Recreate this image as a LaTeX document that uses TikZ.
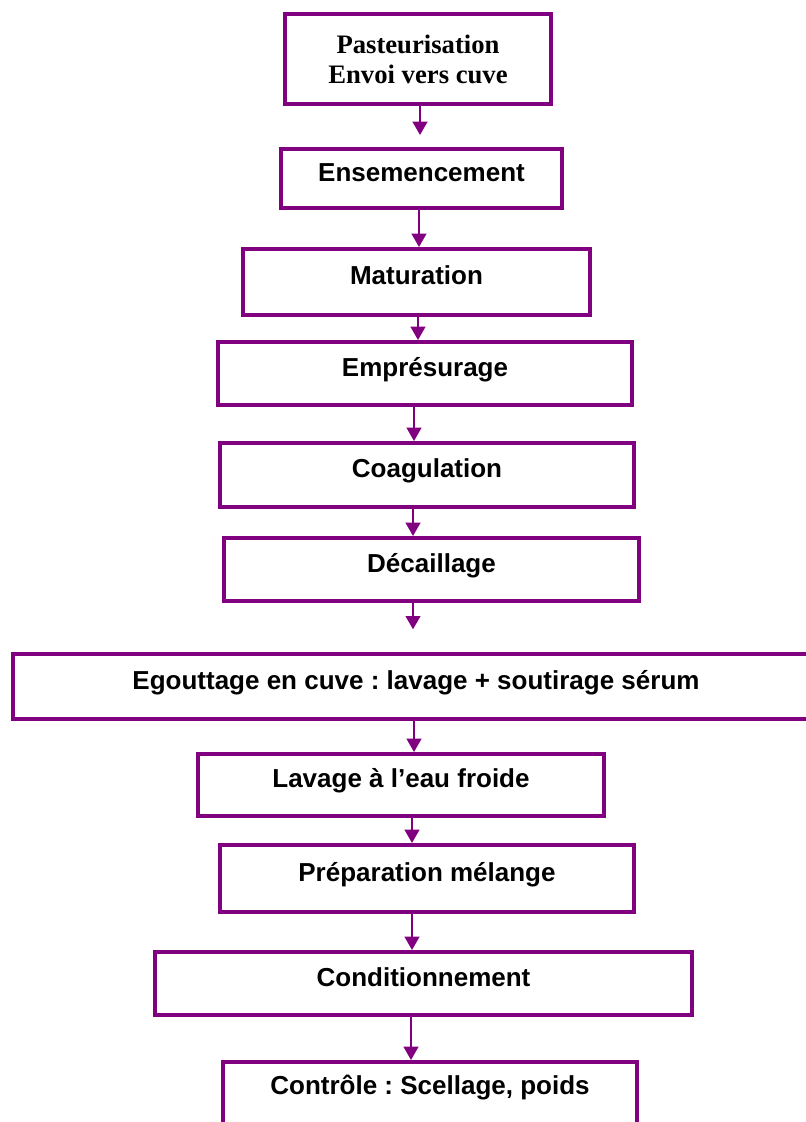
\documentclass[tikz,border=0pt]{standalone}
\usepackage{fontspec}
\setmainfont{Liberation Sans}
\newfontfamily\serifbf{Liberation Serif}
\usetikzlibrary{arrows.meta}
\definecolor{cBorder}{HTML}{800080}
\frenchspacing

\begin{document}
\begin{tikzpicture}[
    x=0.75pt, y=-0.75pt,
    box/.style={draw=cBorder, line width=3pt, fill=white, align=center, inner sep=0pt,
        font=\fontsize{19.5}{23}\selectfont\bfseries, text height=14pt, text depth=10pt},
    arr/.style={-{Triangle[length=10pt,width=11pt]}, line width=1.6pt, draw=cBorder}
]
\useasboundingbox (0,0) rectangle (806,1122);

% steps of the process
\node[box, minimum width=266*0.75pt, minimum height=90*0.75pt, font=\fontsize{20}{22.5}\serifbf\bfseries, text height=, text depth=] (past) at (418,59) {Pasteurisation\\Envoi vers cuve};
\node[box, minimum width=281*0.75pt, minimum height=59*0.75pt] (ens) at (421.5,178.5) {Ensemencement};
\node[box, minimum width=347*0.75pt, minimum height=66*0.75pt] (mat) at (416.5,282) {Maturation};
\node[box, minimum width=414*0.75pt, minimum height=63*0.75pt] (emp) at (425,373.5) {Emprésurage};
\node[box, minimum width=414*0.75pt, minimum height=64*0.75pt] (coag) at (427,475) {Coagulation};
\node[box, minimum width=415*0.75pt, minimum height=63*0.75pt] (dec) at (431.5,569.5) {Décaillage};
\node[box, minimum width=806*0.75pt, minimum height=65*0.75pt] (egout) at (416,686.5) {Egouttage en cuve : lavage + soutirage sérum};
\node[box, minimum width=406*0.75pt, minimum height=62*0.75pt] (lav) at (401,785) {Lavage à l’eau froide};
\node[box, minimum width=414*0.75pt, minimum height=67*0.75pt] (prep) at (427,878.5) {Préparation mélange};
\node[box, minimum width=537*0.75pt, minimum height=63*0.75pt] (cond) at (423.5,983.5) {Conditionnement};
\node[box, minimum width=414*0.75pt, minimum height=96*0.75pt, text depth=37pt] (ctrl) at (430,1110) {Contrôle : Scellage, poids};

% arrows
\foreach \a/\b/\x/\gap in {past/ens/420/9pt, ens/mat/419/0pt, mat/emp/418/0pt, emp/coag/414/0pt,
    coag/dec/413/0pt, dec/egout/413/17pt, egout/lav/414/0pt, lav/prep/412/0pt,
    prep/cond/412/0pt, cond/ctrl/411/0pt} {
    \coordinate (ax) at (\x,0);
    \draw[arr, shorten >=\gap] (\a.south -| ax) -- (\b.north -| ax);
}
\end{tikzpicture}
\end{document}
